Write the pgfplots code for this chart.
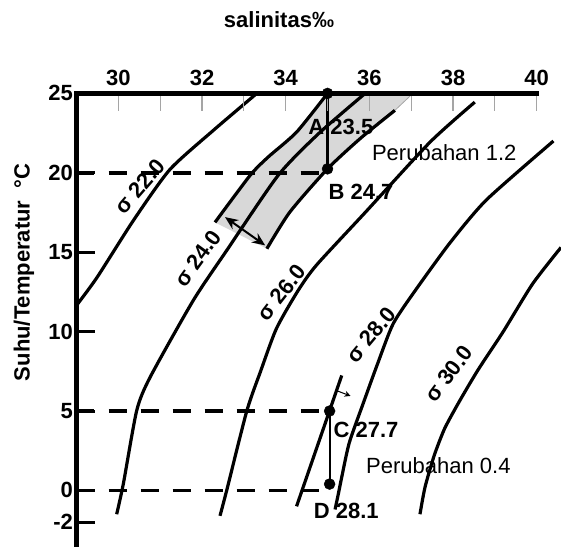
\documentclass[border=0pt]{standalone}
\usepackage{fontspec}
\setmainfont{Liberation Sans}
\usepackage{pgfplots}
\pgfplotsset{compat=1.18}
\usetikzlibrary{arrows.meta}
\definecolor{bandgray}{RGB}{216,216,216}
\definecolor{tickgray}{RGB}{165,165,165}
\newcommand{\lbl}{\fontsize{22}{24}\selectfont\bfseries}
\newcommand{\reg}{\fontsize{22}{24}\selectfont}
\begin{document}
\begin{tikzpicture}
\begin{axis}[
  scale only axis, width=460.2pt, height=452.6pt,
  xmin=29, xmax=40, ymin=-3.5, ymax=25,
  axis x line*=top, axis y line*=left,
  axis line style={line width=5pt, line cap=rect},
  axis on top, clip=false,
  tick align=inside, major tick length=18pt,
  xtick={30,31,...,40},
  xticklabels={30,,32,,34,,36,,38,,40},
  ytick={-2,0,5,10,15,20,25},
  yticklabels={-2,0,5,10,15,20,25},
  xtick style={tickgray, line width=1.2pt},
  ytick style={black, line width=3pt},
  xticklabel style={font=\lbl, yshift=4pt},
  yticklabel style={font=\lbl},
  /pgf/number format/assume math mode=true,
]
\coordinate (BL) at (axis cs:29,-3.5);
% shaded band
\addplot[fill=bandgray, draw=none] coordinates {
 (32.31,16.88) (33.15,19.84) (33.58,20.99) (34.26,22.56) (35,25) (37.04,25)
 (36.61,23.93) (35.8,22.2) (35.0,20.25) (34.10,17.53) (33.55,15.22)} -- cycle;
\addplot[gray!70, line width=0.8pt] coordinates {(36.61,23.93) (37.04,25)};
% band boundaries
\addplot[black, line width=3.2pt, smooth, tension=0.4] coordinates {
 (32.31,16.88) (33.15,19.84) (33.58,20.99) (34.26,22.56) (35,25)};
\addplot[black, line width=3.2pt, smooth, tension=0.4] coordinates {
 (33.55,15.22) (34.10,17.53) (35.0,20.25) (35.8,22.2) (36.61,23.93)};
% sigma curves
\addplot[black, line width=3.2pt, smooth, tension=0.4] coordinates {
 (29.0,11.65) (29.49,13.41) (30.36,17.0) (31.23,20.2) (32.27,22.67) (33.31,25)};
\addplot[black, line width=3.2pt, smooth, tension=0.4] coordinates {
 (29.96,-1.5) (30.12,0.42) (30.44,5.04) (30.76,7.13) (31.79,11.96) (32.59,15.11)
 (33.82,19.84) (34.8,22.5) (35.9,25)};
\addplot[black, line width=3.2pt, smooth, tension=0.4] coordinates {
 (32.43,-1.6) (32.59,0) (33.07,5.0) (33.4,7.5) (33.78,10.2) (34.3,12.6)
 (34.74,14.2) (35.9,17.5) (37.45,21.93) (38.52,24.45)};
\addplot[black, line width=3.2pt, smooth, tension=0.4] coordinates {
 (35.18,-1.2) (35.26,-0.2) (35.34,0.84) (35.52,3.0) (35.85,5.46) (36.2,8.0)
 (36.57,10.5) (37.1,12.6) (37.93,15.6) (38.8,18.3) (40.4,22.0)};
\addplot[black, line width=3.2pt, smooth, tension=0.4] coordinates {
 (37.21,-1.5) (37.33,0.2) (37.55,2.2) (37.8,3.9) (38.15,5.6) (38.6,7.6)
 (39.2,10.0) (39.9,13.0) (40.58,15.3)};
% sigma 27.7 segment
\addplot[black, line width=3.2pt] coordinates {(34.26,-1.0) (35.34,7.24)};
% dashed lines
\addplot[black, line width=3.5pt, dash pattern=on 18pt off 14pt] coordinates {(29,20) (35,20)};
\addplot[black, line width=3.5pt, dash pattern=on 18pt off 14pt] coordinates {(29,5) (35.05,5)};
\addplot[black, line width=3.5pt, dash pattern=on 18pt off 14pt] coordinates {(29,0) (35.1,0)};
% vertical connectors
\addplot[black, line width=2.2pt] coordinates {(35,25) (35,20.25)};
\addplot[black, line width=2.2pt] coordinates {(35.05,5) (35.05,0.4)};
% markers
\addplot[only marks, mark=*, mark size=5.5pt, black] coordinates {(35,25) (35,20.25) (35.05,5) (35.05,0.4)};
% arrows
\addplot[black, line width=2pt, {Stealth[length=13pt,width=11pt]}-{Stealth[length=13pt,width=11pt]}] coordinates {(32.55,17.21) (33.51,15.43)};
\addplot[black, line width=1pt, -{Stealth[length=6pt,width=6pt]}] coordinates {(35.2,6.3) (35.55,5.95)};
% labels
\node[rotate=49, font=\lbl] at (axis cs:30.52,19.15) {σ 22.0};
\node[rotate=54, font=\lbl] at (axis cs:31.9,14.6) {σ 24.0};
\node[rotate=52, font=\lbl] at (axis cs:33.9,12.45) {σ 26.0};
\node[rotate=50, font=\lbl] at (axis cs:36.04,9.8) {σ 28.0};
\node[rotate=53, font=\lbl] at (axis cs:37.9,7.35) {σ 30.0};
\node[font=\lbl] at (axis cs:35.32,22.9) {A 23.5};
\node[font=\lbl] at (axis cs:35.8,18.78) {B 24.7};
\node[font=\lbl] at (axis cs:35.92,3.78) {C 27.7};
\node[font=\lbl] at (axis cs:35.45,-1.3) {D 28.1};
\node[font=\reg] at (axis cs:37.79,21.3) {Perubahan 1.2};
\node[font=\reg] at (axis cs:37.65,1.57) {Perubahan 0.4};
\node[font=\lbl] at (axis cs:33.84,29.66) {salinitas‰};
\node[font=\lbl, rotate=90] at (axis cs:27.745,13.73) {Suhu/Temperatur \ °C};
\end{axis}
\pgfresetboundingbox
\path ([xshift=-76.5pt]BL) rectangle ++(561pt,546pt);
\end{tikzpicture}
\end{document}
